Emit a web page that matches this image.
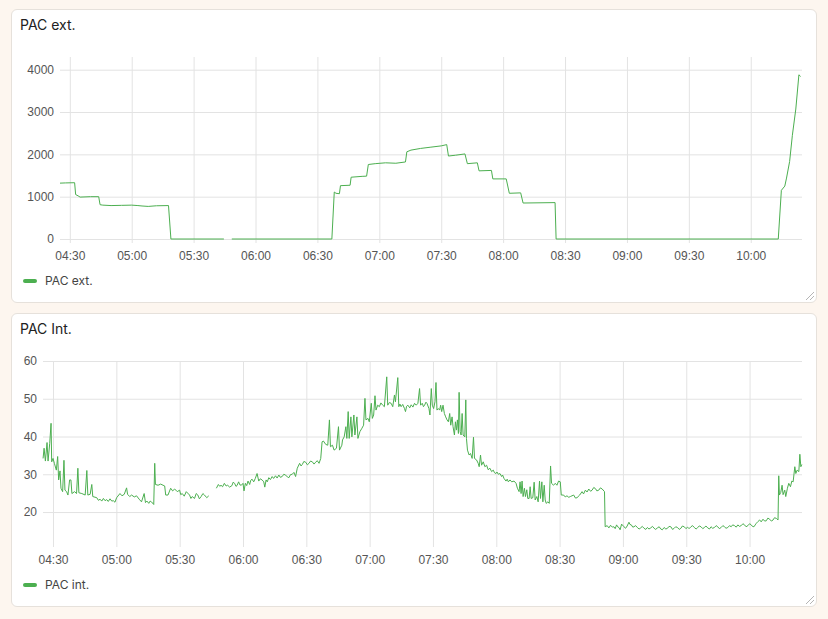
<!DOCTYPE html>
<html>
<head>
<meta charset="utf-8">
<script src="https://cdn.jsdelivr.net/npm/d3@7"></script>
<style>
  body {
    margin: 0;
    background: #fdf6ef;
    font-family: Inter, Roboto, "Noto Sans", sans-serif;
  }
  .card {
    position: absolute;
    left: 11px;
    width: 806px;
    height: 294px;
    box-sizing: border-box;
    background: #fff;
    border: 1px solid #e6e1db;
    border-radius: 6px;
  }
  .card svg {
    position: absolute;
    left: -1px;
    top: -1px;
  }
  .title {
    font-size: 14px;
    fill: #212121;
  }
  .tick-label {
    font-size: 12px;
    fill: #555;
  }
  .legend-label {
    font-size: 12px;
    fill: #444;
  }
</style>
</head>
<body>
<div id="charts"></div>
<script>
// Shared time extent of both history graphs
const xDomain = ["04:25:15", "10:24:50"];

// PAC ext. (W)
const extTicks = [0, 1000, 2000, 3000, 4000];
const extSeries = [
  ["04:25:15", 1320], ["04:28:00", 1325], ["04:32:20", 1330], ["04:32:50", 1050],
  ["04:34:00", 1020], ["04:35:00", 990], ["04:40:00", 1000], ["04:44:00", 1000],
  ["04:44:40", 810], ["04:46:00", 800], ["04:50:00", 790], ["04:55:00", 795],
  ["05:00:00", 800], ["05:03:00", 790], ["05:05:00", 780], ["05:08:00", 770],
  ["05:12:00", 785], ["05:17:50", 790], ["05:19:00", 0], ["05:44:40", 0],
  ["05:46:30", null],
  ["05:48:30", 0], ["06:37:00", 0], ["06:38:10", 1110], ["06:39:00", 1080],
  ["06:40:40", 1070], ["06:41:10", 1260], ["06:45:50", 1270], ["06:46:20", 1460],
  ["06:51:40", 1480], ["06:53:50", 1485], ["06:54:40", 1760], ["06:58:00", 1780],
  ["07:03:00", 1800], ["07:08:00", 1790], ["07:12:40", 1820], ["07:13:20", 2060],
  ["07:15:20", 2100], ["07:20:00", 2140], ["07:25:00", 2170], ["07:30:00", 2200],
  ["07:32:40", 2230], ["07:33:30", 1960], ["07:37:00", 1980], ["07:41:30", 2010],
  ["07:42:40", 1780], ["07:47:30", 1800], ["07:48:20", 1610], ["07:54:20", 1620],
  ["07:55:00", 1420], ["08:01:30", 1420], ["08:03:00", 1080], ["08:08:30", 1090],
  ["08:09:40", 850], ["08:25:10", 860], ["08:25:40", 0], ["10:13:20", 0],
  ["10:14:50", 1150], ["10:16:30", 1250], ["10:17:20", 1440], ["10:18:50", 1830],
  ["10:20:10", 2450], ["10:21:50", 3070], ["10:23:20", 3880], ["10:24:10", 3840],
];

// PAC int. (W)
const intTicks = [20, 30, 40, 50, 60];
const intSeries = [
  ["04:25:17", 34.2], ["04:25:46", 36.9], ["04:26:23", 33.5], ["04:27:10", 38.4],
  ["04:27:39", 33.5], ["04:28:26", 38.2], ["04:29:04", 43.5], ["04:29:22", 33.3],
  ["04:30:00", 34.2], ["04:30:38", 32.9], ["04:31:34", 31.1], ["04:32:12", 34.7],
  ["04:32:40", 28.5], ["04:33:18", 30.9], ["04:33:46", 26.3], ["04:34:33", 25.4],
  ["04:35:11", 33.7], ["04:35:39", 25.8], ["04:36:26", 25.4], ["04:37:04", 24.5],
  ["04:37:51", 28.5], ["04:38:29", 28.5], ["04:38:57", 24.9], ["04:40:12", 25.4],
  ["04:41:09", 24.9], ["04:41:46", 31.6], ["04:42:15", 25.1], ["04:43:39", 24.9],
  ["04:45:14", 24.5], ["04:46:01", 31.0], ["04:46:29", 24.5], ["04:47:35", 24.7],
  ["04:48:22", 27.3], ["04:48:50", 24.1], ["04:50:43", 23.8], ["04:51:30", 23.1],
  ["04:52:17", 23.4], ["04:53:05", 22.9], ["04:53:52", 23.6], ["04:54:40", 23.0],
  ["04:55:26", 23.3], ["04:56:10", 22.8], ["04:57:00", 23.5], ["04:57:50", 22.9],
  ["04:58:34", 23.0], ["04:59:20", 22.6], ["05:00:08", 23.8], ["05:01:43", 24.9],
  ["05:02:40", 24.3], ["05:03:45", 24.7], ["05:04:51", 26.4], ["05:05:19", 24.7],
  ["05:06:20", 24.1], ["05:07:13", 24.5], ["05:08:30", 24.0], ["05:09:34", 24.3],
  ["05:10:49", 23.4], ["05:11:55", 22.7], ["05:13:10", 24.9], ["05:13:48", 22.5],
  ["05:14:30", 22.9], ["05:15:22", 22.3], ["05:16:00", 22.9], ["05:16:37", 22.7],
  ["05:17:43", 22.0], ["05:18:11", 32.9], ["05:18:31", 27.3], ["05:19:46", 27.1],
  ["05:21:00", 27.4], ["05:22:07", 27.1], ["05:22:54", 26.9], ["05:23:23", 24.5],
  ["05:24:28", 24.5], ["05:25:44", 26.3], ["05:26:40", 25.6], ["05:27:37", 26.1],
  ["05:28:52", 25.4], ["05:29:58", 25.8], ["05:30:30", 24.6], ["05:31:13", 24.9],
  ["05:32:10", 24.2], ["05:33:07", 25.4], ["05:34:41", 24.5], ["05:35:20", 23.6],
  ["05:35:56", 24.1], ["05:37:02", 23.6], ["05:37:50", 24.9], ["05:38:36", 24.5],
  ["05:39:20", 23.5], ["05:40:10", 24.1], ["05:41:00", 24.9], ["05:41:45", 24.5],
  ["05:42:50", 23.8], ["05:43:47", 24.3],
  ["05:45:30", null],
  ["05:47:23", 26.3], ["05:48:20", 27.3], ["05:49:00", 26.8], ["05:49:35", 27.1],
  ["05:50:20", 26.7], ["05:51:10", 27.6], ["05:52:00", 26.9], ["05:52:44", 27.1],
  ["05:53:40", 26.6], ["05:54:46", 27.0], ["05:55:20", 27.9], ["05:56:02", 27.6],
  ["05:56:40", 26.8], ["05:57:09", 27.0], ["05:57:56", 28.0], ["05:58:30", 27.2],
  ["05:59:13", 27.1], ["06:00:00", 27.6], ["06:00:29", 25.6], ["06:01:07", 27.6],
  ["06:01:45", 27.0], ["06:02:23", 28.2], ["06:03:10", 27.3], ["06:03:40", 28.4],
  ["06:04:17", 28.7], ["06:05:05", 28.0], ["06:05:50", 28.9], ["06:06:40", 30.2],
  ["06:07:28", 28.2], ["06:08:10", 28.8], ["06:09:03", 28.5], ["06:09:50", 28.0],
  ["06:10:19", 26.6], ["06:10:57", 28.5], ["06:11:30", 28.0], ["06:12:13", 29.1],
  ["06:13:00", 28.6], ["06:13:49", 29.4], ["06:14:30", 28.9], ["06:15:24", 29.6],
  ["06:16:10", 29.0], ["06:16:59", 29.8], ["06:17:40", 29.2], ["06:18:34", 29.4],
  ["06:19:20", 30.0], ["06:20:10", 29.8], ["06:21:00", 29.3], ["06:21:45", 29.1],
  ["06:22:30", 29.9], ["06:23:20", 30.0], ["06:24:08", 30.5], ["06:24:55", 29.4],
  ["06:25:43", 31.6], ["06:26:50", 32.9], ["06:27:30", 32.2], ["06:28:06", 32.6],
  ["06:28:50", 33.4], ["06:29:41", 33.2], ["06:30:30", 32.5], ["06:31:16", 32.9],
  ["06:32:00", 33.5], ["06:32:51", 33.3], ["06:33:40", 32.7], ["06:34:27", 33.2],
  ["06:35:10", 33.6], ["06:36:02", 32.9], ["06:36:50", 34.2], ["06:37:28", 38.6],
  ["06:38:06", 38.8], ["06:39:13", 37.9], ["06:40:10", 37.7], ["06:40:57", 44.4],
  ["06:41:26", 37.3], ["06:42:23", 37.7], ["06:43:10", 36.4], ["06:44:17", 36.9],
  ["06:45:14", 42.6], ["06:45:43", 36.4], ["06:46:50", 37.7], ["06:47:09", 39.1],
  ["06:47:56", 39.9], ["06:48:44", 42.6], ["06:49:12", 39.5], ["06:49:50", 46.6],
  ["06:50:19", 39.5], ["06:51:07", 45.2], ["06:51:35", 39.9], ["06:52:32", 45.7],
  ["06:53:01", 40.4], ["06:53:58", 45.2], ["06:54:27", 39.5], ["06:55:24", 41.3],
  ["06:56:21", 42.2], ["06:57:08", 43.0], ["06:57:47", 50.1], ["06:58:15", 44.4],
  ["06:59:12", 44.8], ["06:59:50", 43.9], ["07:00:47", 48.8], ["07:01:16", 44.8],
  ["07:01:54", 45.7], ["07:02:32", 50.8], ["07:03:01", 47.0], ["07:03:49", 48.3],
  ["07:04:36", 47.9], ["07:05:20", 48.9], ["07:06:11", 48.3], ["07:06:59", 47.9],
  ["07:08:06", 55.8], ["07:08:34", 48.3], ["07:09:20", 49.0], ["07:10:10", 48.8],
  ["07:10:57", 47.9], ["07:11:45", 51.0], ["07:12:13", 49.2], ["07:13:20", 55.6],
  ["07:13:49", 47.9], ["07:14:20", 48.6], ["07:14:55", 47.9], ["07:15:40", 48.5],
  ["07:16:31", 47.4], ["07:16:59", 46.6], ["07:17:30", 48.0], ["07:18:06", 48.3],
  ["07:19:00", 47.6], ["07:19:41", 48.4], ["07:20:30", 47.8], ["07:21:16", 48.8],
  ["07:22:04", 48.3], ["07:22:52", 48.8], ["07:23:39", 52.7], ["07:24:08", 48.3],
  ["07:24:55", 48.8], ["07:25:30", 47.9], ["07:26:02", 48.3], ["07:26:40", 49.1],
  ["07:27:09", 48.8], ["07:28:06", 47.4], ["07:28:34", 45.7], ["07:29:13", 52.7],
  ["07:29:41", 48.3], ["07:30:19", 47.4], ["07:30:57", 49.2], ["07:31:26", 54.3],
  ["07:31:54", 47.0], ["07:32:32", 47.4], ["07:33:10", 47.0], ["07:33:39", 48.3],
  ["07:34:08", 46.6], ["07:34:46", 48.3], ["07:35:24", 46.1], ["07:36:02", 45.2],
  ["07:36:40", 44.4], ["07:37:18", 43.9], ["07:37:56", 46.1], ["07:38:25", 43.0],
  ["07:39:03", 45.2], ["07:39:31", 42.6], ["07:40:10", 40.4], ["07:40:38", 43.9],
  ["07:41:07", 41.7], ["07:41:35", 44.4], ["07:42:04", 40.8], ["07:42:23", 51.7],
  ["07:42:52", 41.3], ["07:43:20", 40.4], ["07:43:49", 46.1], ["07:44:17", 40.4],
  ["07:45:05", 39.9], ["07:45:33", 49.7], ["07:45:52", 39.5], ["07:46:21", 36.4],
  ["07:47:08", 35.1], ["07:47:47", 35.5], ["07:48:34", 34.2], ["07:49:12", 39.8],
  ["07:49:41", 34.2], ["07:50:38", 33.8], ["07:51:26", 32.9], ["07:51:54", 32.0],
  ["07:52:32", 35.1], ["07:53:01", 32.4], ["07:53:49", 33.3], ["07:54:36", 32.0],
  ["07:55:24", 32.4], ["07:56:10", 31.2], ["07:56:59", 31.6], ["07:57:47", 30.7],
  ["07:58:34", 31.1], ["07:59:10", 30.4], ["07:59:50", 30.2], ["08:00:20", 30.6],
  ["08:00:57", 30.0], ["08:01:45", 30.2], ["08:02:32", 29.4], ["08:03:00", 29.8],
  ["08:03:39", 28.9], ["08:04:36", 28.2], ["08:05:10", 28.7], ["08:05:43", 28.0],
  ["08:06:31", 28.5], ["08:07:18", 28.0], ["08:08:25", 28.2], ["08:09:22", 27.6],
  ["08:10:00", 26.3], ["08:10:48", 25.4], ["08:11:16", 28.0], ["08:11:45", 24.9],
  ["08:12:13", 28.2], ["08:12:42", 24.1], ["08:13:20", 26.3], ["08:13:49", 24.1],
  ["08:14:27", 25.9], ["08:14:55", 23.6], ["08:15:33", 23.6], ["08:16:02", 26.7],
  ["08:16:31", 23.6], ["08:17:18", 23.8], ["08:17:56", 27.9], ["08:18:25", 23.2],
  ["08:19:12", 24.1], ["08:19:50", 22.7], ["08:20:29", 28.2], ["08:20:57", 23.6],
  ["08:21:35", 28.0], ["08:22:04", 22.7], ["08:22:42", 27.1], ["08:23:10", 23.2],
  ["08:23:39", 22.3], ["08:24:27", 22.7], ["08:25:05", 22.3], ["08:25:43", 32.2],
  ["08:26:11", 27.6], ["08:27:08", 27.1], ["08:27:56", 27.6], ["08:28:44", 27.1],
  ["08:29:31", 28.2], ["08:30:19", 28.0], ["08:30:47", 24.5], ["08:31:54", 24.5],
  ["08:32:40", 24.0], ["08:33:29", 24.3], ["08:34:20", 23.9], ["08:35:05", 24.1],
  ["08:36:40", 24.5], ["08:37:30", 23.7], ["08:38:15", 23.8], ["08:39:31", 24.5],
  ["08:40:38", 25.4], ["08:41:20", 24.8], ["08:42:13", 25.8], ["08:43:00", 25.3],
  ["08:43:49", 26.1], ["08:44:40", 25.5], ["08:45:24", 25.8], ["08:46:10", 26.5],
  ["08:46:59", 26.2], ["08:47:40", 25.6], ["08:48:34", 25.8], ["08:49:20", 26.4],
  ["08:50:10", 26.1], ["08:51:16", 25.4], ["08:51:35", 16.1], ["08:52:32", 16.4],
  ["08:53:20", 15.8], ["08:54:08", 16.5], ["08:55:00", 16.0], ["08:55:43", 16.1],
  ["08:56:20", 15.6], ["08:56:59", 16.6], ["08:57:30", 16.1], ["08:58:06", 15.9],
  ["08:58:40", 15.3], ["08:59:22", 16.8], ["09:00:29", 16.1], ["09:01:16", 15.7],
  ["09:02:00", 16.3], ["09:02:51", 17.3], ["09:03:20", 16.7], ["09:03:58", 16.6],
  ["09:04:40", 16.0], ["09:05:14", 16.1], ["09:06:00", 16.4], ["09:06:50", 15.9],
  ["09:07:40", 15.5], ["09:08:25", 15.8], ["09:09:10", 16.2], ["09:10:00", 15.7],
  ["09:10:50", 15.4], ["09:11:35", 15.9], ["09:12:20", 15.5], ["09:13:10", 15.8],
  ["09:14:00", 16.2], ["09:14:46", 15.7], ["09:15:30", 15.4], ["09:16:21", 15.8],
  ["09:17:10", 16.1], ["09:17:56", 15.5], ["09:18:40", 15.3], ["09:19:31", 15.9],
  ["09:20:20", 15.5], ["09:21:07", 15.7], ["09:21:50", 16.2], ["09:22:42", 16.1],
  ["09:23:30", 15.4], ["09:24:17", 15.7], ["09:25:00", 16.1], ["09:25:52", 15.9],
  ["09:26:40", 15.4], ["09:27:28", 15.7], ["09:28:10", 16.3], ["09:29:03", 16.1],
  ["09:29:50", 15.6], ["09:30:38", 16.0], ["09:31:20", 15.6], ["09:32:13", 16.1],
  ["09:33:00", 16.4], ["09:33:49", 15.9], ["09:34:40", 15.5], ["09:35:24", 15.9],
  ["09:36:10", 16.3], ["09:36:59", 16.1], ["09:37:50", 15.6], ["09:38:34", 15.9],
  ["09:39:20", 16.3], ["09:40:10", 15.8], ["09:41:00", 15.5], ["09:41:45", 16.1],
  ["09:42:30", 15.7], ["09:43:20", 15.9], ["09:44:10", 16.4], ["09:44:55", 16.1],
  ["09:45:40", 15.6], ["09:46:31", 15.9], ["09:47:20", 16.4], ["09:48:06", 16.1],
  ["09:48:50", 15.7], ["09:49:41", 15.9], ["09:50:30", 16.4], ["09:51:16", 16.1],
  ["09:52:00", 16.6], ["09:52:51", 16.4], ["09:53:40", 16.0], ["09:54:27", 16.6],
  ["09:55:10", 16.2], ["09:56:02", 16.4], ["09:56:50", 16.9], ["09:57:37", 16.6],
  ["09:58:20", 16.1], ["09:59:12", 16.4], ["10:00:00", 16.9], ["10:00:47", 16.6],
  ["10:01:20", 16.2], ["10:02:04", 16.1], ["10:02:40", 16.6], ["10:03:10", 17.0],
  ["10:04:00", 17.5], ["10:04:46", 17.9], ["10:05:30", 17.4], ["10:06:21", 18.1],
  ["10:07:10", 17.6], ["10:07:56", 17.7], ["10:08:40", 18.4], ["10:09:31", 18.1],
  ["10:10:20", 17.6], ["10:11:07", 17.9], ["10:11:50", 18.5], ["10:12:42", 18.3],
  ["10:13:29", 17.9], ["10:13:49", 29.6], ["10:14:08", 24.5], ["10:14:46", 25.2],
  ["10:15:24", 27.1], ["10:15:52", 24.6], ["10:16:40", 25.8], ["10:17:08", 24.1],
  ["10:17:56", 26.3], ["10:18:34", 27.6], ["10:19:22", 26.7], ["10:20:00", 28.2],
  ["10:20:38", 28.0], ["10:21:26", 32.0], ["10:21:54", 30.2], ["10:22:32", 31.1],
  ["10:23:20", 30.7], ["10:23:49", 35.3], ["10:24:17", 32.0], ["10:24:46", 32.6],
];

// Set up dimensions
const cardWidth = 806;
const cardHeight = 294;
const lineColor = "#4caf50";
const gridColor = "#e3e3e3";

const parseTime = d3.timeParse("%H:%M:%S");
const formatTime = d3.timeFormat("%H:%M");
const formatValue = d3.format("d");

function drawPanel({ top, title, legend, series, yDomain, yTicks, plotLeft }) {
  const card = d3
    .select("#charts")
    .append("div")
    .attr("class", "card")
    .style("top", top + "px");

  const svg = card
    .append("svg")
    .attr("width", cardWidth)
    .attr("height", cardHeight);

  let margin = { top: 48, right: 15, bottom: 64, left: plotLeft };

  // Set up scales
  let xScale = d3
    .scaleTime()
    .domain(xDomain.map(parseTime))
    .range([margin.left, cardWidth - margin.right]);

  let yScale = d3
    .scaleLinear()
    .domain(yDomain)
    .range([cardHeight - margin.bottom, margin.top]);

  let data = series.map(([t, v]) => ({ time: parseTime(t), value: v }));

  // Draw title
  svg
    .append("text")
    .attr("class", "title")
    .attr("x", 9)
    .attr("y", 21)
    .text(title);

  // Draw grid + y axis
  const yAxisG = svg
    .append("g")
    .attr("transform", `translate(${margin.left},0)`)
    .call(
      d3
        .axisLeft(yScale)
        .tickValues(yTicks)
        .tickFormat(formatValue)
        .tickSize(-(cardWidth - margin.left - margin.right))
        .tickPadding(6)
    );
  yAxisG.select(".domain").remove();
  yAxisG.selectAll("line").attr("stroke", gridColor);
  yAxisG
    .selectAll("text")
    .attr("class", "tick-label")
    .attr("font-family", null)
    .attr("font-size", null);

  // Draw grid + x axis
  const xAxisG = svg
    .append("g")
    .attr("transform", `translate(0,${cardHeight - margin.bottom + 4})`)
    .call(
      d3
        .axisBottom(xScale)
        .ticks(d3.timeMinute.every(30))
        .tickFormat(formatTime)
        .tickSize(-(cardHeight - margin.bottom - margin.top + 4))
        .tickPadding(8)
    );
  xAxisG.select(".domain").remove();
  xAxisG.selectAll("line").attr("stroke", gridColor);
  xAxisG
    .selectAll("text")
    .attr("class", "tick-label")
    .attr("font-family", null)
    .attr("font-size", null);

  // Draw line
  let line = d3
    .line()
    .defined((d) => d.value != null)
    .x((d) => xScale(d.time))
    .y((d) => yScale(d.value));

  svg
    .append("path")
    .datum(data)
    .attr("fill", "none")
    .attr("stroke", lineColor)
    .attr("stroke-width", 1)
    .attr("stroke-linejoin", "round")
    .attr("d", line);

  // Draw legend
  svg
    .append("rect")
    .attr("x", 12)
    .attr("y", 270)
    .attr("width", 14)
    .attr("height", 4)
    .attr("rx", 2)
    .attr("fill", lineColor);

  svg
    .append("text")
    .attr("class", "legend-label")
    .attr("x", 34)
    .attr("y", 276)
    .text(legend);

  // Draw resize handle
  svg
    .append("g")
    .attr("stroke", "#b5b5b5")
    .attr("stroke-width", 1)
    .selectAll("line")
    .data([9, 5])
    .join("line")
    .attr("x1", (d) => cardWidth - 3)
    .attr("y1", (d) => cardHeight - d - 2)
    .attr("x2", (d) => cardWidth - d - 2)
    .attr("y2", (d) => cardHeight - 3);
}

drawPanel({
  top: 9,
  title: "PAC ext.",
  legend: "PAC ext.",
  series: extSeries,
  yDomain: [0, 4300],
  yTicks: extTicks,
  plotLeft: 49,
});

drawPanel({
  top: 313,
  title: "PAC Int.",
  legend: "PAC int.",
  series: intSeries,
  yDomain: [11.8, 60],
  yTicks: intTicks,
  plotLeft: 32,
});
</script>
</body>
</html>
